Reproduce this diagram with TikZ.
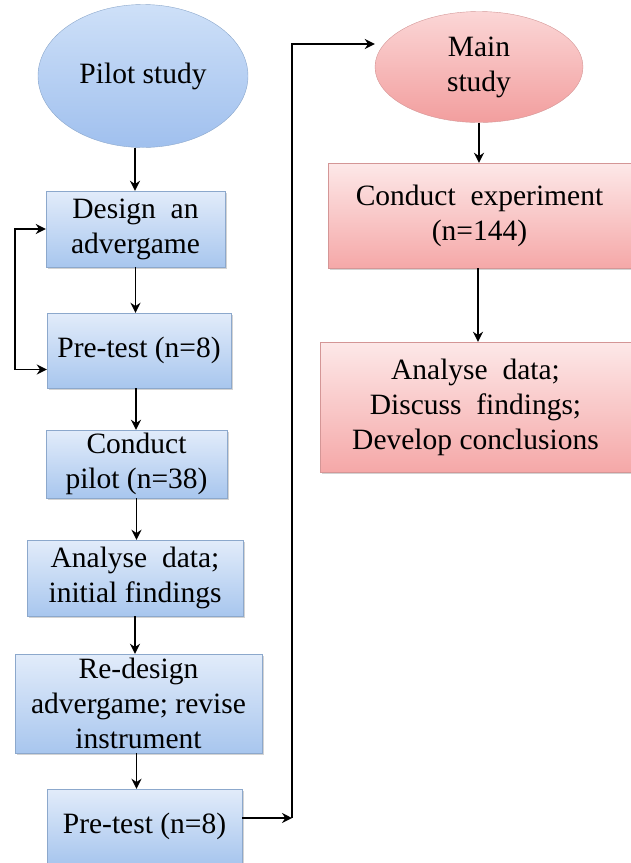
\documentclass[tikz,border=0pt]{standalone}
\usepackage{fontspec}
\setmainfont{Liberation Serif}
\newfontfamily\flowfont{Liberation Serif}
\usetikzlibrary{positioning,arrows.meta,calc,shadows,shapes.geometric}
\definecolor{pbTop}{RGB}{226,236,250}
\definecolor{pbBottom}{RGB}{168,198,238}
\definecolor{pbEdge}{RGB}{140,168,204}
\definecolor{peTop}{RGB}{206,224,248}
\definecolor{peBottom}{RGB}{160,192,238}
\definecolor{mbTop}{RGB}{253,232,232}
\definecolor{mbBottom}{RGB}{245,168,168}
\definecolor{mbEdge}{RGB}{212,150,150}
\definecolor{meTop}{RGB}{251,214,214}
\definecolor{meBottom}{RGB}{242,158,158}

\tikzset{
  pilotbox/.style={rectangle, draw=pbEdge, top color=pbTop, bottom color=pbBottom,
    align=center, inner sep=0pt, drop shadow={opacity=0.35, shadow xshift=2pt, shadow yshift=-2pt}},
  pilotoval/.style={ellipse, draw=pbEdge, top color=peTop, bottom color=peBottom,
    align=center, inner sep=0pt},
  mainbox/.style={rectangle, draw=mbEdge, top color=mbTop, bottom color=mbBottom,
    align=center, inner sep=0pt, drop shadow={opacity=0.35, shadow xshift=2pt, shadow yshift=-2pt}},
  mainoval/.style={ellipse, draw=mbEdge, top color=meTop, bottom color=meBottom,
    align=center, inner sep=0pt},
  flow/.style={-{Stealth[length=10pt,width=10pt]}, line width=1.9pt, black},
}

\begin{document}
\begin{tikzpicture}[x=1pt, y=-1pt, font=\flowfont\fontsize{29.5}{35}\selectfont]
  \useasboundingbox (0,0) rectangle (631,863);

  % Pilot study column
  \node[pilotoval, minimum width=210pt, minimum height=143pt] (pilot) at (143,76) {Pilot study};
  \node[pilotbox, minimum width=179pt, minimum height=76pt] (design) at (135.5,229) {Design\ \ an\\advergame};
  \node[pilotbox, minimum width=184pt, minimum height=75pt] (pre1) at (139,350.5) {Pre-test (n=8)};
  \node[pilotbox, minimum width=181pt, minimum height=68pt] (pilotrun) at (136.5,464) {Conduct\\pilot (n=38)};
  \node[pilotbox, minimum width=216pt, minimum height=76pt] (analyse1) at (135,578) {Analyse\ \ data;\\initial findings};
  \node[pilotbox, minimum width=247pt, minimum height=99pt] (redesign) at (138.5,703.5) {Re-design\\advergame;\ revise\\instrument};
  \node[pilotbox, minimum width=195pt, minimum height=74pt] (pre2) at (144.5,826) {Pre-test (n=8)};

  % Main study column
  \node[mainoval, minimum width=208pt, minimum height=111pt] (main) at (479,67) {Main\\study};
  \node[mainbox, minimum width=303pt, minimum height=105pt] (experiment) at (479.5,215.5) {Conduct\ \ experiment\\(n=144)};
  \node[mainbox, minimum width=311pt, minimum height=130pt] (analyse2) at (475.5,407) {Analyse\ \ data;\\Discuss\ \ findings;\\Develop conclusions};

  % Helper points
  \coordinate (p0) at ($(pilot.south)+(-8,0)$);
  \coordinate (p2) at ($(pre1.south)+(-3,0)$);
  \coordinate (p5) at ($(redesign.south)+(-2,0)$);
  \coordinate (m1) at ($(experiment.south)+(-1.5,0)$);
  \coordinate (loopin) at ($(pre1.west)+(0,19)$);
  \coordinate (out) at ($(pre2.east)+(0,-8)$);
  \coordinate (turn) at (292,818);
  \coordinate (mainin) at ($(main.west)+(0,-23)$);

  % Arrows
  \draw[flow] (p0) -- (p0 |- design.north);
  \draw[flow] (design.south) -- (design.south |- pre1.north);
  \draw[flow] (p2) -- (p2 |- pilotrun.north);
  \draw[flow] (pilotrun.south) -- (pilotrun.south |- analyse1.north);
  \draw[flow] (analyse1.south) -- (analyse1.south |- redesign.north);
  \draw[flow] (p5) -- (p5 |- pre2.north);
  \draw[flow, {Stealth[length=10pt,width=10pt]}-{Stealth[length=10pt,width=10pt]}]
    (design.west) -- ++(-31,0) |- (loopin);
  \draw[flow] (out) -- (turn);
  \draw[flow] (turn) |- (mainin);
  \draw[flow] (main.south) -- (main.south |- experiment.north);
  \draw[flow] (m1) -- (m1 |- analyse2.north);
\end{tikzpicture}
\end{document}
